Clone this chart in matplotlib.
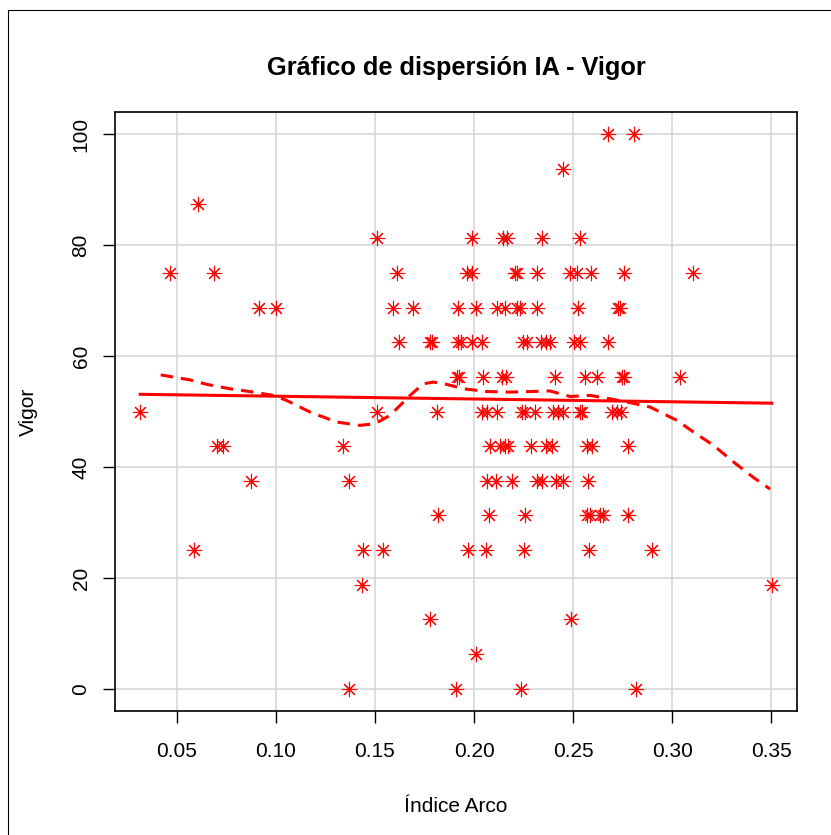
import numpy as np
import matplotlib.pyplot as plt
from matplotlib.patches import Rectangle

plt.rcParams['font.family'] = ['Liberation Sans', 'DejaVu Sans']

# Índice de arco y puntaje de vigor, agrupados por nivel de vigor
indice_arco = [
    0.2678, 0.2808,
    0.2448,
    0.0605,
    0.1512, 0.1991, 0.2148, 0.2165, 0.2345, 0.2535,
    0.0466, 0.0685, 0.1611, 0.1963, 0.1988, 0.2205, 0.2215, 0.2317, 0.2485, 0.2522, 0.2589, 0.2758, 0.3105,
    0.0914, 0.1002, 0.1593, 0.1690, 0.1921, 0.2010, 0.2118, 0.2157, 0.2216, 0.2232, 0.2317, 0.2527, 0.2729, 0.2737,
    0.1621, 0.1778, 0.1789, 0.1921, 0.1933, 0.1991, 0.2039, 0.2249, 0.2269, 0.2336, 0.2364, 0.2386, 0.2507, 0.2535, 0.2675,
    0.1913, 0.1924, 0.2047, 0.2140, 0.2159, 0.2409, 0.2561, 0.2620, 0.2745, 0.2758, 0.3042,
    0.0315, 0.1512, 0.1811, 0.2039, 0.2064, 0.2118, 0.2241, 0.2258, 0.2308, 0.2400, 0.2426, 0.2451, 0.2535, 0.2544, 0.2695, 0.2720, 0.2742,
    0.0704, 0.0734, 0.1340, 0.2081, 0.2131, 0.2157, 0.2173, 0.2286, 0.2365, 0.2393, 0.2569, 0.2594, 0.2776,
    0.0875, 0.1370, 0.2064, 0.2111, 0.2190, 0.2317, 0.2343, 0.2414, 0.2449, 0.2574,
    0.1817, 0.2077, 0.2258, 0.2569, 0.2586, 0.2636, 0.2653, 0.2776,
    0.0587, 0.1441, 0.1542, 0.1968, 0.2061, 0.2250, 0.2578, 0.2897,
    0.1433, 0.3503,
    0.1778, 0.2490,
    0.2009,
    0.1370, 0.1909, 0.2237, 0.2818,
]
vigor = ([100] * 2 + [93.75] * 1 + [87.5] * 1 + [81.25] * 6 + [75] * 13 + [68.75] * 14
         + [62.5] * 15 + [56.25] * 11 + [50] * 17 + [43.75] * 13 + [37.5] * 10
         + [31.25] * 8 + [25] * 8 + [18.75] * 2 + [12.5] * 2 + [6.25] * 1 + [0] * 4)

# recta de regresión (extremos) y suavizado loess
recta_x = [0.0315, 0.3503]
recta_y = [53.1, 51.5]
suave_x = [0.0418, 0.0566, 0.0650, 0.0768, 0.0885, 0.0986, 0.1054, 0.1172, 0.1307,
           0.1424, 0.1500, 0.1576, 0.1677, 0.1744, 0.1795, 0.1862, 0.1946, 0.2064,
           0.2182, 0.2283, 0.2384, 0.2485, 0.2586, 0.2700, 0.2800, 0.2889, 0.3024,
           0.3108, 0.3209, 0.3310, 0.3411, 0.3495]
suave_y = [56.6, 55.7, 54.9, 54.1, 53.5, 52.9, 52.0, 49.9, 48.1,
           47.5, 47.8, 49.3, 52.9, 55.0, 55.3, 54.9, 54.1, 53.6,
           53.5, 53.6, 53.7, 52.7, 52.9, 52.2, 51.5, 50.8, 48.4,
           46.3, 43.9, 40.9, 38.1, 36.0]

x_ticks = [0.05, 0.10, 0.15, 0.20, 0.25, 0.30, 0.35]
y_ticks = [0, 20, 40, 60, 80, 100]

fig = plt.figure(figsize=(8.31, 8.35), dpi=100)
ax = fig.add_axes([115 / 831, 1 - 711 / 835, 682 / 831, 599 / 835])

ax.grid(True, color='#d3d3d3', linewidth=1.1)
ax.set_axisbelow(True)

ax.plot(indice_arco, vigor, linestyle='none', marker=(8, 2, 0), markersize=11,
        markeredgewidth=0.8, color='red')
ax.plot(recta_x, recta_y, color='red', linewidth=2.2)
linea, = ax.plot(suave_x, suave_y, color='red', linewidth=2.2)
linea.set_dashes((4.1, 2.6))

x = np.array(indice_arco)
dx = (x.max() - x.min()) * 0.04
ax.set_xlim(x.min() - dx, x.max() + dx)
ax.set_ylim(-4, 104)

ax.set_xticks(x_ticks)
ax.set_xticklabels([f'{t:.2f}' for t in x_ticks])
ax.set_yticks(y_ticks)
ax.set_yticklabels([str(t) for t in y_ticks], rotation=90, va='center')
ax.tick_params(direction='out', length=8.6, width=1, labelsize=15)
ax.tick_params(axis='x', pad=14)
ax.tick_params(axis='y', pad=9)

for s in ax.spines.values():
    s.set_linewidth(1.2)

ax.set_title('Gráfico de dispersión IA - Vigor', fontsize=18.3, fontweight='bold', pad=27)
ax.set_xlabel('Índice Arco', fontsize=15, labelpad=26)
ax.set_ylabel('Vigor', fontsize=15, labelpad=24)

# marco exterior de la figura
fig.add_artist(Rectangle((8 / 831, -0.5), 2, 1.5 - 10 / 835, transform=fig.transFigure,
                         fill=False, edgecolor='black', linewidth=0.8))

fig.savefig('out.png', dpi=100)
